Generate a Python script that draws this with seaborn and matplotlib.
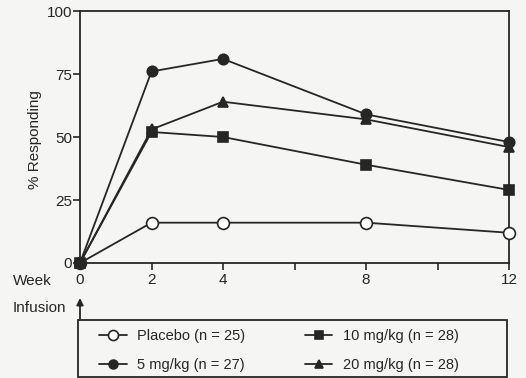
import matplotlib
matplotlib.use("Agg")
import matplotlib.pyplot as plt
import matplotlib.patches as mpatches
import seaborn as sns
import pandas as pd

weeks = [0, 2, 4, 8, 12]
placebo = [0, 16, 16, 16, 12]
mg5 = [0, 76, 81, 59, 48]
mg10 = [0, 52, 50, 39, 29]
mg20 = [0, 53, 64, 57, 46]
labels = ["Placebo (n = 25)", "5 mg/kg (n = 27)", "10 mg/kg (n = 28)", "20 mg/kg (n = 28)"]
yticks = [0, 25, 50, 75, 100]
xticks_major = [0, 2, 4, 8, 12]
xticks_all = [0, 2, 4, 6, 8, 10, 12]

sns.set_theme(style="ticks")
plt.rcParams['font.family'] = ['Liberation Sans', 'DejaVu Sans']

bg = "#f5f5f3"
ink = "#262626"
W, H = 526, 378
fig = plt.figure(figsize=(W/100, H/100), dpi=100, facecolor=bg)
ax = fig.add_axes([80/W, 1-263/H, (509-80)/W, (263-11)/H])
ax.set_facecolor(bg)

series = [placebo, mg5, mg10, mg20]
markers = ["o", "o", "s", "^"]
faces = ["white", ink, ink, ink]
sizes = [8.5, 7.5, 7.5, 7.5]
for vals, lab, m, fc, ms in zip(series, labels, markers, faces, sizes):
    df = pd.DataFrame({"week": weeks, "pct": vals})
    sns.lineplot(data=df, x="week", y="pct", ax=ax, color=ink, lw=1.3,
                 marker=m, markersize=ms, markerfacecolor=fc,
                 markeredgecolor=ink, markeredgewidth=1.2, label=lab, legend=False,
                 clip_on=False, zorder=3)

ax.set_xlim(0, 12)
ax.set_ylim(0, 100)
ax.set_yticks(yticks)
ax.set_yticklabels([str(v) for v in yticks], fontsize=11, color=ink)
ax.set_xticks(xticks_all)
ax.set_xticklabels([str(v) if v in xticks_major else "" for v in xticks_all], fontsize=11, color=ink)
ax.tick_params(axis="y", direction="out", length=5, width=1.2, color=ink, pad=0.8)
ax.tick_params(axis="x", direction="out", length=5, width=1.2, color=ink, pad=2)
for s in ax.spines.values():
    s.set_visible(True)
    s.set_color(ink)
    s.set_linewidth(1.3)
ax.set_xlabel("")
ax.set_ylabel("% Responding", fontsize=11, color=ink)
ax.yaxis.set_label_coords((42-80)/(509-80), 0.49)

fig.text(13/W, 1-281/H, "Week", fontsize=11, color=ink, va="center", ha="left")
fig.text(13/W, 1-308/H, "Infusion", fontsize=11, color=ink, va="center", ha="left")
fig.add_artist(mpatches.FancyArrowPatch((80/W, 1-319/H), (80/W, 1-298/H),
               transform=fig.transFigure, arrowstyle="-|>", mutation_scale=10,
               color=ink, lw=1.3, shrinkA=0, shrinkB=0))

# legend frame
fig.add_artist(mpatches.Rectangle((78/W, 1-377/H), (507-78)/W, (377-320)/H,
               transform=fig.transFigure, fill=False, edgecolor=ink, lw=1.3))

h, l = ax.get_legend_handles_labels()
leg = fig.legend(h, l, ncol=2, loc="upper left", bbox_to_anchor=(96/W, 1-326/H),
                 frameon=False, fontsize=10.5, handlelength=1.9, handletextpad=0.7,
                 columnspacing=4.1, labelspacing=1.02, borderpad=0.2, borderaxespad=0,
                 markerscale=0.85)
for t in leg.get_texts():
    t.set_color(ink)

fig.savefig("out.png", dpi=100, facecolor=bg)
